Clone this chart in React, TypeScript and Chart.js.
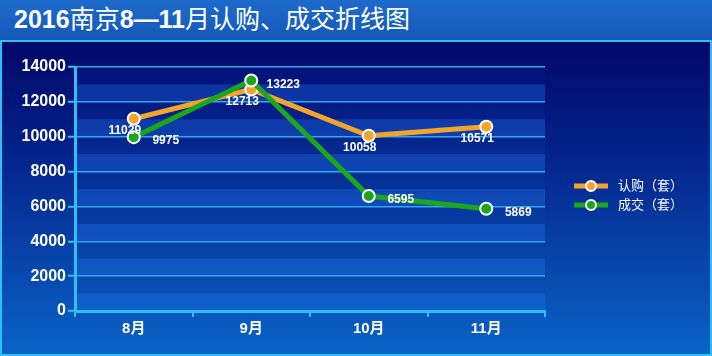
import React, { useEffect, useRef } from "react";
import { Chart, registerables } from "chart.js";

Chart.register(...registerables);

const categories = ["8月", "9月", "10月", "11月"];
const subscribeLabel = "认购（套）";
const dealLabel = "成交（套）";
const subscribeValues = [11029, 12713, 10058, 10571];
const dealValues = [9975, 13223, 6595, 5869];
const yMin = 0;
const yMax = 14000;
const yStep = 1000;
const yLabelStep = 2000;

const CYAN = "#2ec0f4";
const ORANGE = "#f2a52a";
const GREEN = "#1ea51e";
const FONT = '"Liberation Sans", Arial, "Noto Sans CJK SC", sans-serif';

const bgPlugin = {
  id: "bgPlugin",
  beforeDraw(chart: any) {
    const { ctx, chartArea } = chart;
    const y = chart.scales.y;
    ctx.save();
    const g = ctx.createLinearGradient(0, chartArea.top, 0, chartArea.bottom);
    g.addColorStop(0, "#03127a");
    g.addColorStop(1, "#0853b8");
    ctx.fillStyle = g;
    ctx.fillRect(chartArea.left, chartArea.top, chartArea.right - chartArea.left, chartArea.bottom - chartArea.top);
    for (let v = yMin; v < yMax; v += yStep) {
      if ((v / yStep) % 2 === 0) {
        const y0 = y.getPixelForValue(v);
        const y1 = y.getPixelForValue(v + yStep);
        ctx.fillStyle = "rgba(40,130,255,0.28)";
        ctx.fillRect(chartArea.left, y1, chartArea.right - chartArea.left, y0 - y1);
      }
    }
    ctx.restore();
  },
};

const labelPlugin = {
  id: "labelPlugin",
  afterDatasetsDraw(chart: any) {
    const { ctx } = chart;
    ctx.save();
    ctx.font = `bold 12px ${FONT}`;
    ctx.fillStyle = "#ffffff";
    ctx.textAlign = "center";
    ctx.textBaseline = "middle";
    chart.data.datasets.forEach((ds: any, i: number) => {
      const meta = chart.getDatasetMeta(i);
      meta.data.forEach((pt: any, j: number) => {
        const v = ds.data[j];
        if (i === 0) ctx.fillText(String(v), pt.x - 9, pt.y + 12);
        else ctx.fillText(String(v), pt.x + 32, pt.y + 4);
      });
    });
    ctx.restore();
  },
};

const legendPlugin = {
  id: "legendPlugin",
  afterDraw(chart: any) {
    const { ctx } = chart;
    ctx.save();
    const x0 = 574;
    const x1 = 608;
    const cx = 591;
    chart.data.datasets.forEach((ds: any, i: number) => {
      const yy = 186 + i * 19;
      ctx.strokeStyle = ds.borderColor;
      ctx.lineWidth = 5;
      ctx.beginPath();
      ctx.moveTo(x0, yy);
      ctx.lineTo(x1, yy);
      ctx.stroke();
      ctx.beginPath();
      ctx.arc(cx, yy, 5, 0, Math.PI * 2);
      ctx.fillStyle = ds.pointBackgroundColor;
      ctx.fill();
      ctx.lineWidth = 2;
      ctx.strokeStyle = "#ffffff";
      ctx.stroke();
      ctx.fillStyle = "#ffffff";
      ctx.font = `13px ${FONT}`;
      ctx.textAlign = "left";
      ctx.textBaseline = "middle";
      ctx.fillText(ds.label, 618, yy);
    });
    ctx.restore();
  },
};

export default function App() {
  const ref = useRef<HTMLCanvasElement>(null);
  useEffect(() => {
    if (!ref.current) return;
    const chart = new Chart(ref.current, {
      type: "line",
      data: {
        labels: categories,
        datasets: [
          {
            label: subscribeLabel,
            data: subscribeValues,
            borderColor: ORANGE,
            backgroundColor: ORANGE,
            pointBackgroundColor: ORANGE,
            pointBorderColor: "#ffffff",
            pointBorderWidth: 2,
            pointRadius: 6,
            borderWidth: 5,
            tension: 0,
            order: 1,
          },
          {
            label: dealLabel,
            data: dealValues,
            borderColor: GREEN,
            backgroundColor: GREEN,
            pointBackgroundColor: GREEN,
            pointBorderColor: "#ffffff",
            pointBorderWidth: 2,
            pointRadius: 6,
            borderWidth: 5,
            tension: 0,
            order: 0,
          },
        ],
      },
      options: {
        responsive: false,
        animation: false,
        devicePixelRatio: 1,
        layout: { padding: { left: 0, right: 167, top: 67, bottom: 0 } },
        plugins: {
          legend: { display: false },
          title: { display: false },
          tooltip: { enabled: false },
        },
        scales: {
          x: {
            type: "category",
            offset: true,
            grid: {
              offset: true,
              drawOnChartArea: false,
              drawTicks: true,
              tickLength: 6,
              color: CYAN,
              lineWidth: 2,
            },
            border: { display: true, color: CYAN, width: 3 },
            ticks: {
              color: "#ffffff",
              font: { family: FONT, size: 15, weight: "bold" },
              padding: 3,
            },
            afterFit: (s: any) => {
              s.height = 45;
            },
          },
          y: {
            min: yMin,
            max: yMax,
            grid: {
              color: "#33a6ee",
              lineWidth: 1.5,
              drawTicks: true,
              tickLength: 7,
              tickColor: (c: any) => (c.tick && c.tick.value % yLabelStep === 0 ? CYAN : "rgba(0,0,0,0)"),
              tickWidth: 2,
            },
            border: { display: true, color: CYAN, width: 3 },
            ticks: {
              stepSize: yStep,
              color: "#ffffff",
              font: { family: FONT, size: 16, weight: "bold" },
              padding: 2,
              callback: (v: any) => (Number(v) % yLabelStep === 0 ? String(v) : ""),
            },
            afterFit: (s: any) => {
              s.width = 75;
            },
          },
        },
      },
      plugins: [bgPlugin, labelPlugin, legendPlugin],
    } as any);
    return () => chart.destroy();
  }, []);

  return (
    <div style={{ position: "fixed", left: 0, top: 0, width: 712, height: 356, overflow: "hidden" }}>
      <div
        style={{
          position: "absolute",
          left: 0,
          top: 0,
          width: 712,
          height: 40,
          background: "linear-gradient(#1d6bcc, #1558b8)",
          color: "#ffffff",
          fontFamily: FONT,
          fontSize: 25,
          lineHeight: "38px",
          paddingLeft: 14,
          boxSizing: "border-box",
          whiteSpace: "nowrap",
        }}
      >
        <b>2016</b>南京<b>8—11</b>月认购、成交折线图
      </div>
      <div
        style={{
          position: "absolute",
          left: 0,
          top: 40,
          width: 712,
          height: 316,
          boxSizing: "border-box",
          border: `2px solid ${CYAN}`,
          background: "linear-gradient(#000868 0%, #04228a 35%, #0a63c6 100%)",
        }}
      />
      <canvas
        ref={ref}
        width={712}
        height={356}
        style={{ position: "absolute", left: 0, top: 0, width: 712, height: 356, display: "block" }}
      />
    </div>
  );
}
